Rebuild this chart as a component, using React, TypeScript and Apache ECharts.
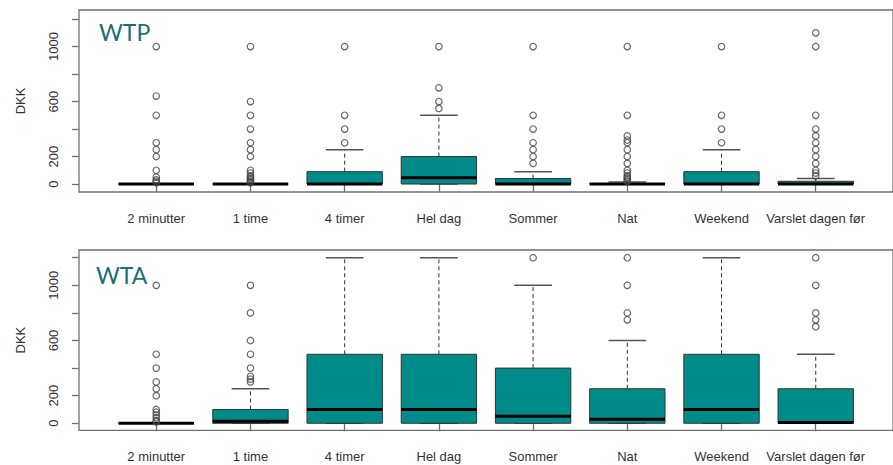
import React, { useEffect, useRef } from "react";
import * as echarts from "echarts";

const categories = [
  "2 minutter",
  "1 time",
  "4 timer",
  "Hel dag",
  "Sommer",
  "Nat",
  "Weekend",
  "Varslet dagen før",
];

// [lower whisker, Q1, median, Q3, upper whisker]
const wtpStats = [
  [0, 0, 0, 0, 0],
  [0, 0, 0, 0, 0],
  [0, 0, 0, 90, 250],
  [0, 0, 45, 200, 500],
  [0, 0, 0, 40, 90],
  [0, 0, 0, 2, 15],
  [0, 0, 0, 90, 250],
  [0, 0, 0, 20, 40],
];

const wtaStats = [
  [0, 0, 0, 0, 0],
  [0, 0, 15, 100, 250],
  [0, 0, 100, 500, 1200],
  [0, 0, 100, 500, 1200],
  [0, 0, 50, 400, 1000],
  [0, 0, 30, 250, 600],
  [0, 0, 100, 500, 1200],
  [0, 0, 5, 250, 500],
];

const wtpOutliers = [
  [1000, 640, 500, 300, 250, 200, 100, 50, 30, 20, 10],
  [1000, 600, 500, 400, 300, 250, 200, 100, 80, 60, 50, 40, 30, 20, 10],
  [1000, 500, 400, 300],
  [1000, 700, 600, 550],
  [1000, 500, 400, 300, 250, 200, 150],
  [1000, 500, 350, 320, 300, 250, 200, 150, 100, 80, 60, 50, 40, 30, 20],
  [1000, 500, 400, 300],
  [1100, 1000, 500, 400, 350, 300, 250, 200, 150, 100, 80, 60],
];

const wtaOutliers = [
  [1000, 500, 400, 300, 250, 200, 100, 80, 60, 40, 20, 10],
  [1000, 800, 600, 500, 400, 340, 320, 300],
  [],
  [],
  [1200],
  [1200, 1000, 800, 750],
  [],
  [1200, 1000, 800, 750, 700],
];

const yTicks = [0, 200, 400, 600, 800, 1000, 1200];
const yLabels = [0, 200, 600, 1000];
const xPositions = [1, 2, 3, 4, 5, 6, 7, 8];
const panelTitles = ["WTP", "WTA"];

const FRAME = "#707070";
const TEXT = "#333333";
const FONT = "Liberation Sans, Arial, sans-serif";

function boxRender(params: any, api: any) {
  const x = api.value(0);
  const lo = api.value(1);
  const q1 = api.value(2);
  const med = api.value(3);
  const q3 = api.value(4);
  const hi = api.value(5);
  const hb = 0.4;
  const hc = 0.2;
  const children: any[] = [];
  const c = (a: number, b: number) => api.coord([a, b]);
  if (hi > q3) {
    const p1 = c(x, q3);
    const p2 = c(x, hi);
    children.push({
      type: "line",
      shape: { x1: p1[0], y1: p1[1], x2: p2[0], y2: p2[1] },
      style: { stroke: "#333", lineWidth: 1, lineDash: [4, 3] },
    });
  }
  if (lo < q1) {
    const p1 = c(x, q1);
    const p2 = c(x, lo);
    children.push({
      type: "line",
      shape: { x1: p1[0], y1: p1[1], x2: p2[0], y2: p2[1] },
      style: { stroke: "#333", lineWidth: 1, lineDash: [4, 3] },
    });
  }
  [hi, lo].forEach((v) => {
    const a = c(x - hc, v);
    const b = c(x + hc, v);
    children.push({
      type: "line",
      shape: { x1: a[0], y1: a[1], x2: b[0], y2: b[1] },
      style: { stroke: "#555", lineWidth: 1.5 },
    });
  });
  const tl = c(x - hb, q3);
  const br = c(x + hb, q1);
  children.push({
    type: "rect",
    shape: { x: tl[0], y: tl[1], width: br[0] - tl[0], height: br[1] - tl[1] },
    style: { fill: "#008B8B", stroke: "#333", lineWidth: 1 },
  });
  const m1 = c(x - hb, med);
  const m2 = c(x + hb, med);
  children.push({
    type: "line",
    shape: { x1: m1[0], y1: m1[1], x2: m2[0], y2: m2[1] },
    style: { stroke: "#000", lineWidth: 3 },
  });
  return { type: "group", children };
}

export default function App() {
  const ref = useRef<HTMLDivElement>(null);
  useEffect(() => {
    document.body.style.margin = "0";
    if (!ref.current) return;
    const chart = echarts.init(ref.current, null, { renderer: "svg" });

    const grids = [
      { left: 79, top: 10, width: 817, height: 182 },
      { left: 79, top: 250, width: 817, height: 180.3 },
    ];
    const yRanges = [
      [-58, 1266],
      [-51, 1256],
    ];
    const statsList = [wtpStats, wtaStats];
    const outList = [wtpOutliers, wtaOutliers];

    const option: any = {
      animation: false,
      backgroundColor: "#ffffff",
      grid: grids.map((g) => ({
        ...g,
        show: true,
        borderColor: FRAME,
        borderWidth: 1.3,
        backgroundColor: "transparent",
      })),
      xAxis: grids.map((_, i) => ({
        type: "value",
        gridIndex: i,
        min: 0.18,
        max: 8.82,
        splitLine: { show: false },
        axisLine: { show: false },
        axisTick: {
          show: true,
          customValues: xPositions,
          length: 8,
          lineStyle: { color: FRAME, width: 1.3 },
        },
        axisLabel: {
          customValues: xPositions,
          formatter: (v: number) => categories[Math.round(v) - 1],
          fontSize: 13,
          color: TEXT,
          fontFamily: FONT,
          margin: 20,
        },
      })),
      yAxis: grids.map((_, i) => ({
        type: "value",
        gridIndex: i,
        min: yRanges[i][0],
        max: yRanges[i][1],
        splitLine: { show: false },
        axisLine: { show: false },
        axisTick: {
          show: true,
          customValues: yTicks,
          length: 7,
          lineStyle: { color: FRAME, width: 1.3 },
        },
        axisLabel: {
          customValues: yLabels,
          formatter: (v: number) => String(Math.round(v)),
          rotate: 90,
          fontSize: 13,
          color: TEXT,
          fontFamily: FONT,
          margin: 19,
        },
        name: "DKK",
        nameLocation: "middle",
        nameGap: 52,
        nameRotate: 90,
        nameTextStyle: { fontSize: 13, color: TEXT, fontFamily: FONT },
      })),
      series: [
        ...statsList.map((stats, i) => ({
          type: "custom",
          xAxisIndex: i,
          yAxisIndex: i,
          renderItem: boxRender,
          encode: { x: 0, y: [1, 2, 3, 4, 5] },
          data: stats.map((s, k) => [xPositions[k], ...s]),
          z: 2,
        })),
        ...outList.map((outs, i) => ({
          type: "scatter",
          xAxisIndex: i,
          yAxisIndex: i,
          symbol: "circle",
          symbolSize: 6.5,
          itemStyle: {
            color: "rgba(0,0,0,0)",
            borderColor: "#444",
            borderWidth: 1.2,
          },
          data: outs.flatMap((vals, k) => vals.map((v) => [xPositions[k], v])),
          z: 3,
        })),
      ],
      graphic: [
        {
          type: "text",
          x: 99,
          y: 31.5,
          style: {
            text: panelTitles[0],
            fontSize: 23,
            fontFamily: "Lato, Open Sans, sans-serif",
            fill: "#1d6f75",
            verticalAlign: "middle",
          },
        },
        {
          type: "text",
          x: 96,
          y: 275,
          style: {
            text: panelTitles[1],
            fontSize: 23,
            fontFamily: "Lato, Open Sans, sans-serif",
            fill: "#1d6f75",
            verticalAlign: "middle",
          },
        },
      ],
    };
    chart.setOption(option);
    return () => chart.dispose();
  }, []);
  return <div ref={ref} style={{ width: 893, height: 465 }} />;
}
